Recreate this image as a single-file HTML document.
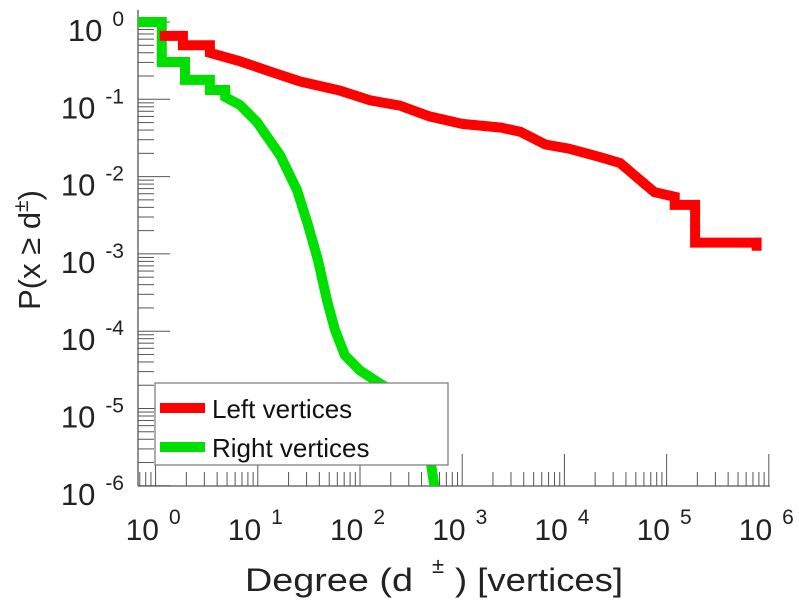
<!DOCTYPE html>
<html><head><meta charset="utf-8"><style>
html,body{margin:0;padding:0;background:#fff;}
svg{display:block;font-family:"Liberation Sans",sans-serif;}
</style></head><body>
<svg id="chart" width="799" height="600" viewBox="0 0 799 600" xmlns="http://www.w3.org/2000/svg">
<g id="axes"></g>
<g id="series"></g>
<g id="legend">
  <rect x="155" y="383" width="293" height="82" fill="#fff" stroke="#777" stroke-width="1.2"/>
  <line x1="160" y1="408" x2="205" y2="408" stroke="#ff0000" stroke-width="10"/>
  <text x="212" y="418" font-size="26" fill="#111">Left vertices</text>
  <line x1="160" y1="447" x2="205" y2="447" stroke="#00e000" stroke-width="10"/>
  <text x="212" y="457" font-size="26" fill="#111">Right vertices</text>
</g>
<g fill="#222">
  <text x="245" y="591" font-size="32" textLength="168" lengthAdjust="spacingAndGlyphs">Degree (d</text>
  <text x="432" y="573" font-size="22">±</text>
  <text x="455" y="591" font-size="32" textLength="168" lengthAdjust="spacingAndGlyphs">) [vertices]</text>
</g>
<text transform="translate(40,250) rotate(-90)" font-size="31" fill="#222" text-anchor="middle">P(x ≥ d<tspan dy="-12" font-size="21">±</tspan><tspan dy="12">)</tspan></text>
</svg>
<script>
const xTickExps = [0,1,2,3,4,5,6];
const yTickExps = [0,-1,-2,-3,-4,-5,-6];
const leftDeg = [1.1,1.85,1.85,3.4,3.4,6.7,13,26,63,125,245,480,1000,2400,3700,6500,11000,22000,35000,55000,76000,120000,120000,190000,190000,760000,760000];
const leftP = [0.66,0.66,0.50,0.50,0.40,0.31,0.23,0.17,0.13,0.097,0.083,0.060,0.048,0.043,0.038,0.026,0.023,0.018,0.015,0.009,0.0063,0.0055,0.0043,0.0043,0.0014,0.0014,0.0011];
const rightDeg = [0.67,1.15,1.15,1.94,1.94,3.4,3.4,4.8,4.8,6.7,9.8,16.5,24.2,31,38.8,47.5,56.9,71,100,157,246,323,432,506,541];
const rightP = [1,1,0.304,0.304,0.178,0.178,0.132,0.132,0.107,0.0844,0.0508,0.019,0.00671,0.00237,8.3e-4,2.5e-4,1.04e-4,4.9e-5,3.1e-5,2.1e-5,1.5e-5,1.1e-5,5.3e-6,1.6e-6,8.9e-7];

const X0=155.6, XD=102.2, Y0=22, YD=77.3;
const AX_L=138, AX_R=770, AX_B=486, AX_T=10;
function sx(v){return X0+Math.log10(v)*XD;}
function sy(v){return Y0-Math.log10(v)*YD;}
const NS='http://www.w3.org/2000/svg';
function mk(tag,attrs,parent){const e=document.createElementNS(NS,tag);for(const k in attrs)e.setAttribute(k,attrs[k]);parent.appendChild(e);return e;}
const axes=document.getElementById('axes');
let a=mk('line',{x1:AX_L,y1:AX_T,x2:AX_L,y2:AX_B,stroke:'#555','stroke-width':1.3},axes);


a=mk('line',{x1:AX_L,y1:AX_B,x2:AX_R,y2:AX_B,stroke:'#555','stroke-width':1.3},axes);


yTickExps.forEach(e=>{
  const y=sy(Math.pow(10,e));
  let t=mk('line',{x1:AX_L,y1:y,x2:AX_L+32,y2:y,stroke:'#555','stroke-width':1},axes);
  
  
  for(let m=2;m<=9;m++){
    const yy=sy(m*Math.pow(10,e-1));
    if(yy>AX_B||yy<AX_T) continue;
    let mt=mk('line',{x1:AX_L,y1:yy,x2:AX_L+16,y2:yy,stroke:'#555','stroke-width':1},axes);
    
    
  }
  const lab=mk('text',{x:124,y:y+19,'font-size':31,fill:'#222','text-anchor':'end'},axes);
  
  
  lab.innerHTML='10<tspan dx="10" dy="-15" font-size="21">'+(e===0?'0':'-'+(-e))+'</tspan>';
});
xTickExps.forEach(e=>{
  const x=sx(Math.pow(10,e));
  let t=mk('line',{x1:x,y1:AX_B,x2:x,y2:AX_B-32,stroke:'#555','stroke-width':1},axes);
  
  
  for(let m=2;m<=9;m++){
    const xx=sx(m*Math.pow(10,e-1));
    if(xx<AX_L||xx>AX_R) continue;
    let mt=mk('line',{x1:xx,y1:AX_B,x2:xx,y2:AX_B-14,stroke:'#555','stroke-width':1},axes);
    
    
  }
  const lab=mk('text',{x:x-30,y:540,'font-size':30,fill:'#222'},axes);
  
  
  lab.innerHTML='10<tspan dx="10" dy="-16" font-size="21">'+e+'</tspan>';
});
const series=document.getElementById('series');
mk('clipPath',{id:'clip'},series);
mk('rect',{x:AX_L,y:0,width:AX_R-AX_L+20,height:AX_B},document.getElementById('clip'));
function draw(xs,ys,color,name){
  const pts=xs.map((d,i)=>sx(d).toFixed(1)+','+sy(ys[i]).toFixed(1)).join(' ');
  const p=mk('polyline',{points:pts,fill:'none',stroke:color,'stroke-width':10,'stroke-linejoin':'miter','clip-path':'url(#clip)'},series);
  
  
}
draw(rightDeg,rightP,'#00e000','right-vertices-line');
draw(leftDeg,leftP,'#ff0000','left-vertices-line');
</script>
</body></html>
